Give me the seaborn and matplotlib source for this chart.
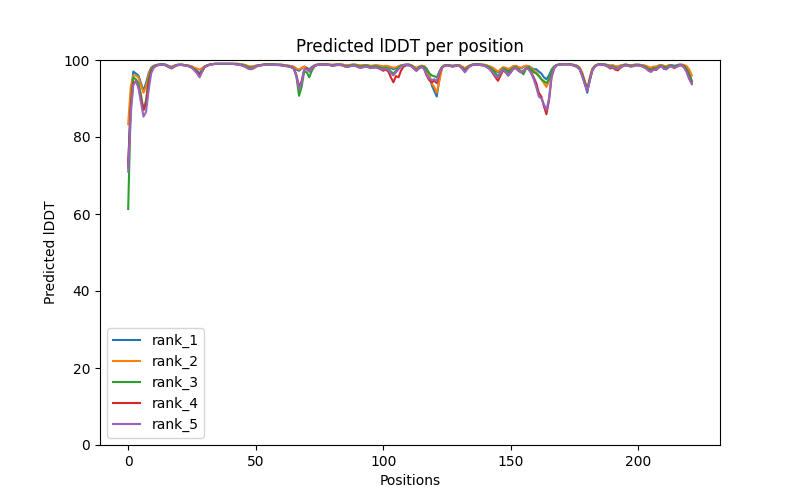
import numpy as np
import matplotlib
matplotlib.use("Agg")
import matplotlib.pyplot as plt
import seaborn as sns

# Predicted lDDT per residue for the five ranked models
rank_1 = [
    72.0, 90.0, 97.0, 96.5, 96.0, 94.0, 92.0, 94.0, 96.5, 98.0, 98.5, 98.7, 98.8, 98.9, 98.9, 98.7, 98.4, 98.2, 98.5, 98.7,
    98.8, 98.8, 98.7, 98.6, 98.5, 98.3, 97.8, 97.2, 96.5, 97.5, 98.3, 98.6, 98.8, 98.9, 99.0, 99.0, 99.0, 99.0, 99.0, 99.0,
    99.0, 99.0, 99.0, 99.0, 98.9, 98.8, 98.6, 98.3, 98.2, 98.3, 98.5, 98.6, 98.7, 98.8, 98.9, 98.9, 98.9, 98.9, 98.8, 98.8,
    98.8, 98.7, 98.6, 98.5, 98.4, 98.2, 97.5, 97.2, 97.8, 98.3, 98.0, 97.6, 98.2, 98.6, 98.8, 98.9, 98.9, 98.9, 98.9, 98.8,
    98.7, 98.8, 98.9, 98.9, 98.8, 98.6, 98.6, 98.7, 98.8, 98.8, 98.6, 98.5, 98.6, 98.7, 98.6, 98.4, 98.5, 98.6, 98.5, 98.3,
    98.2, 98.4, 98.3, 97.9, 97.6, 97.9, 98.3, 98.6, 98.7, 98.8, 98.8, 98.6, 98.2, 97.8, 98.2, 98.5, 98.4, 97.8, 96.5, 93.5,
    92.0, 90.5, 95.0, 98.0, 98.6, 98.7, 98.6, 98.5, 98.6, 98.7, 98.6, 98.2, 97.7, 98.2, 98.6, 98.8, 98.9, 98.9, 98.9, 98.8,
    98.7, 98.5, 98.2, 97.8, 97.2, 96.8, 97.5, 98.0, 97.8, 97.4, 97.8, 98.3, 98.4, 98.0, 97.8, 98.2, 98.5, 98.4, 98.0, 97.6,
    97.6, 97.0, 96.5, 95.5, 95.0, 96.0, 97.5, 98.3, 98.7, 98.8, 98.9, 98.9, 98.9, 98.9, 98.8, 98.7, 98.5, 98.0, 96.5, 94.0,
    91.5, 95.0, 97.5, 98.5, 98.8, 98.9, 98.9, 98.8, 98.7, 98.5, 98.6, 98.3, 98.2, 98.5, 98.7, 98.8, 98.7, 98.6, 98.7, 98.8,
    98.8, 98.7, 98.6, 98.4, 98.0, 97.8, 98.2, 98.1, 98.5, 98.7, 98.4, 98.3, 98.6, 98.7, 98.5, 98.6, 98.8, 98.8, 98.5, 98.0,
    96.5, 94.5,
]
rank_2 = [
    83.3, 93.0, 96.0, 96.0, 95.5, 93.5, 91.5, 93.0, 96.0, 97.8, 98.4, 98.7, 98.8, 98.9, 98.9, 98.7, 98.4, 98.2, 98.5, 98.7,
    98.8, 98.8, 98.7, 98.6, 98.5, 98.3, 98.0, 97.8, 97.5, 97.9, 98.4, 98.6, 98.8, 98.9, 99.0, 99.0, 99.0, 99.0, 99.0, 99.0,
    99.0, 99.0, 99.0, 99.0, 98.9, 98.8, 98.7, 98.4, 98.3, 98.4, 98.5, 98.6, 98.7, 98.8, 98.9, 98.9, 98.9, 98.9, 98.8, 98.8,
    98.8, 98.7, 98.6, 98.5, 98.4, 98.2, 97.8, 97.5, 98.0, 98.3, 97.8, 97.3, 98.0, 98.5, 98.8, 98.9, 98.9, 98.9, 98.9, 98.8,
    98.8, 98.8, 98.9, 98.9, 98.8, 98.7, 98.7, 98.7, 98.8, 98.8, 98.7, 98.6, 98.6, 98.7, 98.6, 98.5, 98.5, 98.6, 98.6, 98.5,
    98.4, 98.5, 98.4, 98.2, 98.0, 98.1, 98.4, 98.6, 98.7, 98.8, 98.8, 98.6, 98.3, 98.0, 98.3, 98.5, 98.4, 97.6, 96.0, 94.0,
    93.0, 91.5, 94.5, 97.8, 98.6, 98.7, 98.6, 98.5, 98.6, 98.7, 98.6, 98.3, 97.9, 98.3, 98.6, 98.8, 98.9, 98.9, 98.9, 98.8,
    98.7, 98.5, 98.3, 98.0, 97.5, 97.0, 97.6, 98.1, 98.0, 97.7, 98.0, 98.4, 98.5, 98.2, 98.0, 98.3, 98.5, 98.4, 98.0, 97.3,
    96.8, 96.0, 95.0, 94.0, 93.0, 94.5, 97.0, 98.2, 98.7, 98.8, 98.9, 98.9, 98.9, 98.9, 98.8, 98.7, 98.5, 98.0, 96.8, 94.5,
    92.5, 95.5, 97.8, 98.5, 98.8, 98.9, 98.9, 98.8, 98.7, 98.6, 98.6, 98.4, 98.4, 98.6, 98.7, 98.8, 98.7, 98.6, 98.7, 98.8,
    98.8, 98.7, 98.6, 98.5, 98.2, 98.0, 98.3, 98.3, 98.6, 98.7, 98.5, 98.4, 98.6, 98.5, 97.8, 98.3, 98.8, 98.8, 98.7, 98.4,
    97.5, 96.0,
]
rank_3 = [
    61.3, 88.0, 95.5, 95.0, 94.0, 91.0, 87.0, 89.5, 95.0, 97.5, 98.3, 98.6, 98.8, 98.9, 98.9, 98.6, 98.3, 98.0, 98.4, 98.7,
    98.8, 98.8, 98.7, 98.6, 98.4, 98.1, 97.5, 96.8, 95.8, 97.0, 98.2, 98.6, 98.8, 98.9, 99.0, 99.0, 99.0, 99.0, 99.0, 99.0,
    99.0, 99.0, 99.0, 98.9, 98.8, 98.7, 98.5, 98.2, 98.0, 98.1, 98.4, 98.6, 98.7, 98.8, 98.9, 98.9, 98.9, 98.9, 98.8, 98.8,
    98.7, 98.6, 98.5, 98.4, 98.2, 97.8, 95.5, 90.7, 93.0, 97.0, 96.8, 95.5, 97.2, 98.3, 98.7, 98.8, 98.9, 98.9, 98.8, 98.7,
    98.6, 98.7, 98.8, 98.8, 98.7, 98.5, 98.4, 98.6, 98.7, 98.7, 98.5, 98.3, 98.4, 98.6, 98.5, 98.2, 98.3, 98.4, 98.3, 98.0,
    97.8, 98.0, 97.8, 97.0, 96.5, 97.2, 98.0, 98.5, 98.7, 98.8, 98.8, 98.6, 98.0, 97.5, 98.0, 98.4, 98.2, 97.5, 96.6, 96.0,
    95.8, 95.5, 97.0, 98.2, 98.6, 98.7, 98.6, 98.4, 98.5, 98.7, 98.5, 98.0, 97.4, 98.0, 98.5, 98.8, 98.9, 98.9, 98.8, 98.7,
    98.6, 98.3, 98.0, 97.4, 96.5, 95.8, 96.8, 97.8, 97.5, 96.8, 97.3, 98.0, 98.2, 97.6, 97.0, 96.3, 97.8, 98.2, 97.6, 96.8,
    96.5, 95.8, 95.0, 94.5, 94.0, 95.0, 97.0, 98.2, 98.7, 98.8, 98.9, 98.9, 98.9, 98.9, 98.8, 98.6, 98.4, 97.8, 96.3, 94.5,
    92.5, 95.0, 97.5, 98.4, 98.8, 98.9, 98.9, 98.8, 98.6, 98.3, 98.4, 98.0, 97.8, 98.3, 98.6, 98.8, 98.7, 98.5, 98.6, 98.7,
    98.7, 98.6, 98.4, 98.2, 97.6, 97.3, 97.9, 97.8, 98.3, 98.6, 98.2, 98.0, 98.5, 98.6, 98.3, 98.4, 98.7, 98.7, 98.4, 97.6,
    96.0, 94.5,
]
rank_4 = [
    73.0, 87.5, 94.0, 94.5, 93.0, 90.0, 87.0, 88.5, 94.0, 97.0, 98.1, 98.5, 98.7, 98.8, 98.8, 98.5, 98.1, 97.8, 98.2, 98.6,
    98.7, 98.7, 98.6, 98.5, 98.3, 98.0, 97.4, 96.7, 96.0, 97.2, 98.2, 98.5, 98.8, 98.9, 99.0, 99.0, 99.0, 99.0, 99.0, 99.0,
    99.0, 99.0, 98.9, 98.8, 98.7, 98.5, 98.2, 97.8, 97.6, 97.8, 98.2, 98.5, 98.6, 98.7, 98.8, 98.8, 98.8, 98.8, 98.7, 98.7,
    98.6, 98.5, 98.4, 98.3, 98.1, 97.7, 96.0, 93.0, 94.5, 97.5, 97.8, 97.0, 97.8, 98.4, 98.7, 98.8, 98.8, 98.8, 98.8, 98.7,
    98.5, 98.6, 98.7, 98.7, 98.6, 98.3, 98.2, 98.4, 98.5, 98.5, 98.2, 98.0, 98.1, 98.3, 98.2, 97.9, 98.0, 98.1, 97.9, 97.6,
    97.2, 97.5, 97.0, 95.5, 94.2, 95.8, 95.5, 97.3, 98.3, 98.6, 98.6, 98.4, 97.8, 97.2, 97.8, 98.2, 97.8, 96.0, 94.8, 94.2,
    94.6, 94.0, 96.5, 98.0, 98.5, 98.6, 98.5, 98.3, 98.4, 98.6, 98.4, 97.8, 97.0, 97.8, 98.4, 98.7, 98.8, 98.8, 98.7, 98.6,
    98.4, 98.0, 97.5, 96.5, 95.5, 94.6, 96.0, 97.3, 96.8, 96.0, 96.8, 97.7, 97.9, 97.2, 96.8, 97.3, 97.8, 97.6, 96.8, 95.5,
    94.0, 91.5, 90.5, 88.0, 85.9, 89.5, 95.5, 97.8, 98.6, 98.8, 98.9, 98.9, 98.9, 98.9, 98.7, 98.5, 98.2, 97.6, 96.0, 94.0,
    92.0, 94.8, 97.3, 98.3, 98.7, 98.8, 98.8, 98.6, 98.3, 97.8, 98.0, 97.5, 97.3, 98.0, 98.4, 98.6, 98.5, 98.3, 98.4, 98.6,
    98.6, 98.5, 98.2, 97.9, 97.3, 97.0, 97.6, 97.4, 98.0, 98.4, 97.8, 97.6, 98.2, 98.4, 98.0, 98.2, 98.6, 98.6, 98.1, 97.0,
    95.2, 94.0,
]
rank_5 = [
    71.0, 86.0, 93.5, 94.5, 93.0, 89.0, 85.3, 86.5, 92.0, 96.5, 98.0, 98.5, 98.7, 98.8, 98.8, 98.5, 98.2, 97.9, 98.3, 98.6,
    98.7, 98.7, 98.6, 98.5, 98.3, 98.0, 97.3, 96.5, 95.5, 97.0, 98.2, 98.5, 98.8, 98.9, 99.0, 99.0, 99.0, 99.0, 99.0, 99.0,
    99.0, 99.0, 98.9, 98.8, 98.7, 98.5, 98.2, 97.8, 97.7, 97.9, 98.3, 98.5, 98.6, 98.7, 98.8, 98.8, 98.8, 98.8, 98.7, 98.7,
    98.6, 98.5, 98.4, 98.3, 98.1, 97.7, 95.8, 92.4, 94.0, 97.4, 97.6, 97.0, 97.8, 98.4, 98.7, 98.8, 98.8, 98.8, 98.8, 98.7,
    98.5, 98.6, 98.7, 98.7, 98.6, 98.3, 98.2, 98.4, 98.5, 98.5, 98.2, 98.0, 98.1, 98.3, 98.2, 97.9, 98.0, 98.1, 97.9, 97.7,
    97.5, 97.7, 97.4, 96.6, 96.0, 96.8, 97.6, 98.3, 98.6, 98.7, 98.7, 98.4, 97.8, 97.2, 97.8, 98.2, 97.7, 96.2, 95.2, 94.8,
    95.0, 94.5, 96.8, 98.0, 98.5, 98.6, 98.5, 98.3, 98.4, 98.6, 98.4, 97.7, 96.8, 97.7, 98.4, 98.7, 98.8, 98.8, 98.7, 98.6,
    98.4, 98.0, 97.5, 96.7, 95.8, 95.5, 96.6, 97.5, 97.0, 95.9, 96.8, 97.8, 97.9, 97.3, 96.8, 97.2, 97.8, 97.6, 96.6, 95.0,
    93.0, 90.5, 90.0, 88.5, 87.0, 90.0, 95.8, 97.9, 98.6, 98.8, 98.9, 98.9, 98.9, 98.9, 98.7, 98.5, 98.2, 97.6, 95.8, 93.8,
    92.0, 94.6, 97.3, 98.3, 98.7, 98.8, 98.8, 98.6, 98.4, 98.0, 98.2, 97.8, 97.7, 98.2, 98.5, 98.6, 98.5, 98.3, 98.4, 98.6,
    98.6, 98.5, 98.2, 97.8, 97.2, 96.9, 97.5, 97.5, 98.1, 98.4, 97.7, 97.6, 98.2, 98.4, 98.0, 98.2, 98.6, 98.6, 98.0, 96.8,
    95.0, 93.7,
]

labels = ["rank_1", "rank_2", "rank_3", "rank_4", "rank_5"]
series = [rank_1, rank_2, rank_3, rank_4, rank_5]
positions = np.arange(len(rank_1))

fig, ax = plt.subplots(figsize=(8, 5), dpi=100)
colors = sns.color_palette("tab10", 5)
for name, vals, c in zip(labels, series, colors):
    sns.lineplot(x=positions, y=vals, label=name, color=c, linewidth=1.5, ax=ax)

ax.set_title("Predicted lDDT per position")
ax.set_xlabel("Positions")
ax.set_ylabel("Predicted lDDT")
ax.set_ylim(0, 100)
ax.legend(loc="lower left")

plt.savefig("out.png", dpi=100)
